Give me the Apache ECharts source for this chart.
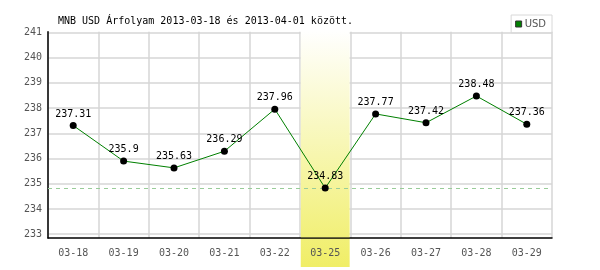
<!DOCTYPE html>
<html><head><meta charset="utf-8">
<script src="https://cdn.jsdelivr.net/npm/echarts@6/dist/echarts.min.js"></script>
<style>html,body{margin:0;padding:0;background:#fff}#c{width:600px;height:270px}</style>
</head><body><div id="c"></div>
<script>
var categories = ['03-18','03-19','03-20','03-21','03-22','03-25','03-26','03-27','03-28','03-29'];
var usdValues = [237.31, 235.9, 235.63, 236.29, 237.96, 234.83, 237.77, 237.42, 238.48, 237.36];
var yTicks = [233, 234, 235, 236, 237, 238, 239, 240, 241];
var highlightCategory = '03-25';
var titleText = 'MNB USD Árfolyam 2013-03-18 és 2013-04-01 között.';
var seriesName = 'USD';

var mono = 'DejaVu Sans Mono';
var chart = echarts.init(document.getElementById('c'), null, {renderer: 'canvas'});
var minVal = Math.min.apply(null, usdValues);
chart.setOption({
  animation: false,
  backgroundColor: '#fff',
  title: {text: titleText, left: 53, top: 11, textStyle: {fontFamily: mono, fontSize: 10, fontWeight: 'normal', color: '#000'}},
  legend: {
    data: [seriesName], right: 48, top: 15, orient: 'vertical',
    borderColor: '#d8d8d8', borderWidth: 1, borderRadius: 0, padding: [4, 6, 4, 4],
    itemWidth: 6, itemHeight: 6, itemGap: 4,
    icon: 'rect',
    itemStyle: {color: '#008000', borderColor: '#333', borderWidth: 1},
    textStyle: {fontFamily: 'DejaVu Sans', fontSize: 10, color: '#555', padding: [0,0,0,-2]}
  },
  grid: {left: 48, right: 48, top: 31.7, bottom: 32},
  xAxis: {
    type: 'category', data: categories, boundaryGap: true,
    axisLine: {lineStyle: {color: '#000', width: 1.5}},
    axisTick: {show: false},
    axisLabel: {fontFamily: mono, fontSize: 10, color: '#555', margin: 10},
    splitLine: {show: true, lineStyle: {color: '#d6d6d6', width: 1.5}}
  },
  yAxis: {
    type: 'value', min: 232.85, max: 241.03,
    axisLine: {show: true, lineStyle: {color: '#000', width: 1.5}},
    axisTick: {show: false, customValues: yTicks},
    axisLabel: {fontFamily: mono, fontSize: 10, color: '#555', margin: 6, customValues: yTicks},
    splitLine: {show: true, lineStyle: {color: '#d6d6d6', width: 1.5}}
  },
  series: [{
    name: 'minLine', type: 'line', data: [], z: 1,
    markLine: {
      silent: true, symbol: ['none', 'none'], label: {show: false},
      lineStyle: {color: '#99cc99', type: [4, 4], width: 1},
      data: [{yAxis: minVal}]
    }
  }, {
    name: seriesName, type: 'line', data: usdValues, z: 5,
    symbol: 'circle', symbolSize: 7,
    itemStyle: {color: '#000'},
    lineStyle: {color: '#008000', width: 1},
    label: {show: true, position: 'top', distance: 3, fontFamily: mono, fontSize: 10, color: '#000'}
  }]
});
var idx = categories.indexOf(highlightCategory);
var x0 = chart.convertToPixel({xAxisIndex: 0}, idx) ;
var x1 = chart.convertToPixel({xAxisIndex: 0}, idx + 1);
var half = (x1 - x0) / 2;
var axisY = chart.convertToPixel({yAxisIndex: 0}, 232.85);
function grad() {
  return new echarts.graphic.LinearGradient(0, 30, 0, 267, [
    {offset: 0, color: '#ffffff'},
    {offset: 1, color: '#f0ee66'}
  ], true);
}
chart.setOption({
  graphic: [{
    type: 'rect', z: 3, silent: true,
    shape: {x: x0 - half + 0.75, y: 30, width: x1 - x0 - 1.5, height: axisY - 0.8 - 30},
    style: {fill: grad()}
  }, {
    type: 'rect', z: -1, silent: true,
    shape: {x: x0 - half + 0.75, y: axisY - 0.8, width: x1 - x0 - 1.5, height: 267 - axisY + 0.8},
    style: {fill: grad()}
  }]
});
</script></body></html>
